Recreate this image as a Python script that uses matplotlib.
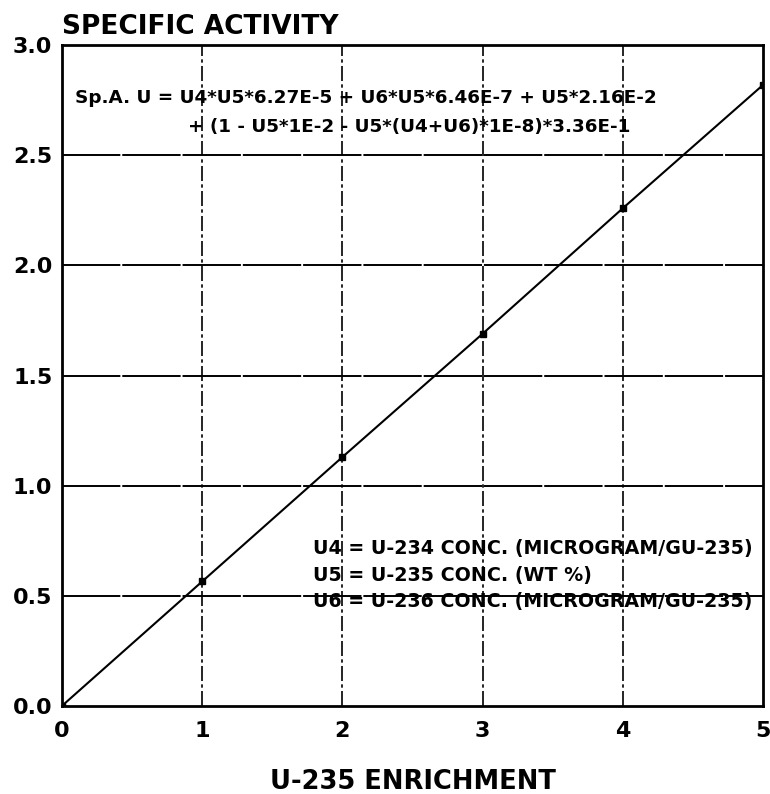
import matplotlib
matplotlib.use("Agg")
import matplotlib.pyplot as plt

# data
enrichment = [0, 1, 2, 3, 4, 5]
activity = [0.0, 0.565, 1.13, 1.69, 2.26, 2.82]
xticks = [0, 1, 2, 3, 4, 5]
yticks = [0.0, 0.5, 1.0, 1.5, 2.0, 2.5, 3.0]

eq_lines = ["Sp.A. U = U4*U5*6.27E-5 + U6*U5*6.46E-7 + U5*2.16E-2",
            "+ (1 - U5*1E-2 - U5*(U4+U6)*1E-8)*3.36E-1"]
key_lines = ["U4 = U-234 CONC. (MICROGRAM/GU-235)",
             "U5 = U-235 CONC. (WT %)",
             "U6 = U-236 CONC. (MICROGRAM/GU-235)"]

plt.rcParams["font.family"] = ["DejaVu Sans"]
plt.rcParams["font.weight"] = "bold"

fig = plt.figure(figsize=(7.7, 7.94), dpi=100)
ax = fig.add_axes([0.0805, 0.111, 0.9105, 0.832])

ax.set_xlim(0, 5)
ax.set_ylim(0, 3)

for xv in xticks[1:-1]:
    ax.axvline(xv, color="black", lw=1.2, ls=(0, (9, 2, 2, 2)), zorder=1)
for yv in yticks[1:-1]:
    ax.axhline(yv, color="black", lw=1.4, ls=(0, (30, 1)), zorder=1)

ax.plot(enrichment, activity, color="black", lw=1.5, marker="s", ms=4, zorder=3)

ax.set_xticks(xticks)
ax.set_xticklabels([str(t) for t in xticks])
ax.set_yticks(yticks)
ax.set_yticklabels(["%.1f" % t for t in yticks])
ax.tick_params(length=0, labelsize=16)
ax.tick_params(axis="x", pad=11)
ax.tick_params(axis="y", pad=7)
for lab in ax.get_xticklabels() + ax.get_yticklabels():
    lab.set_fontweight("bold")

for sp in ax.spines.values():
    sp.set_linewidth(2)

ax.set_xlabel("U-235 ENRICHMENT", fontsize=18.5, fontweight="bold", labelpad=20)
fig.text(0.0805, 0.949, "SPECIFIC ACTIVITY", fontsize=19, fontweight="bold",
         ha="left", va="bottom")

ax.text(0.09, 2.76, eq_lines[0], fontsize=13.2, fontweight="bold", va="center", ha="left")
ax.text(0.9, 2.63, eq_lines[1], fontsize=13.2, fontweight="bold", va="center", ha="left")

key_y = [0.715, 0.59, 0.475]
for txt, yy in zip(key_lines, key_y):
    ax.text(1.79, yy, txt, fontsize=13.7, fontweight="bold", va="center", ha="left")

fig.savefig("out.png", dpi=100)
